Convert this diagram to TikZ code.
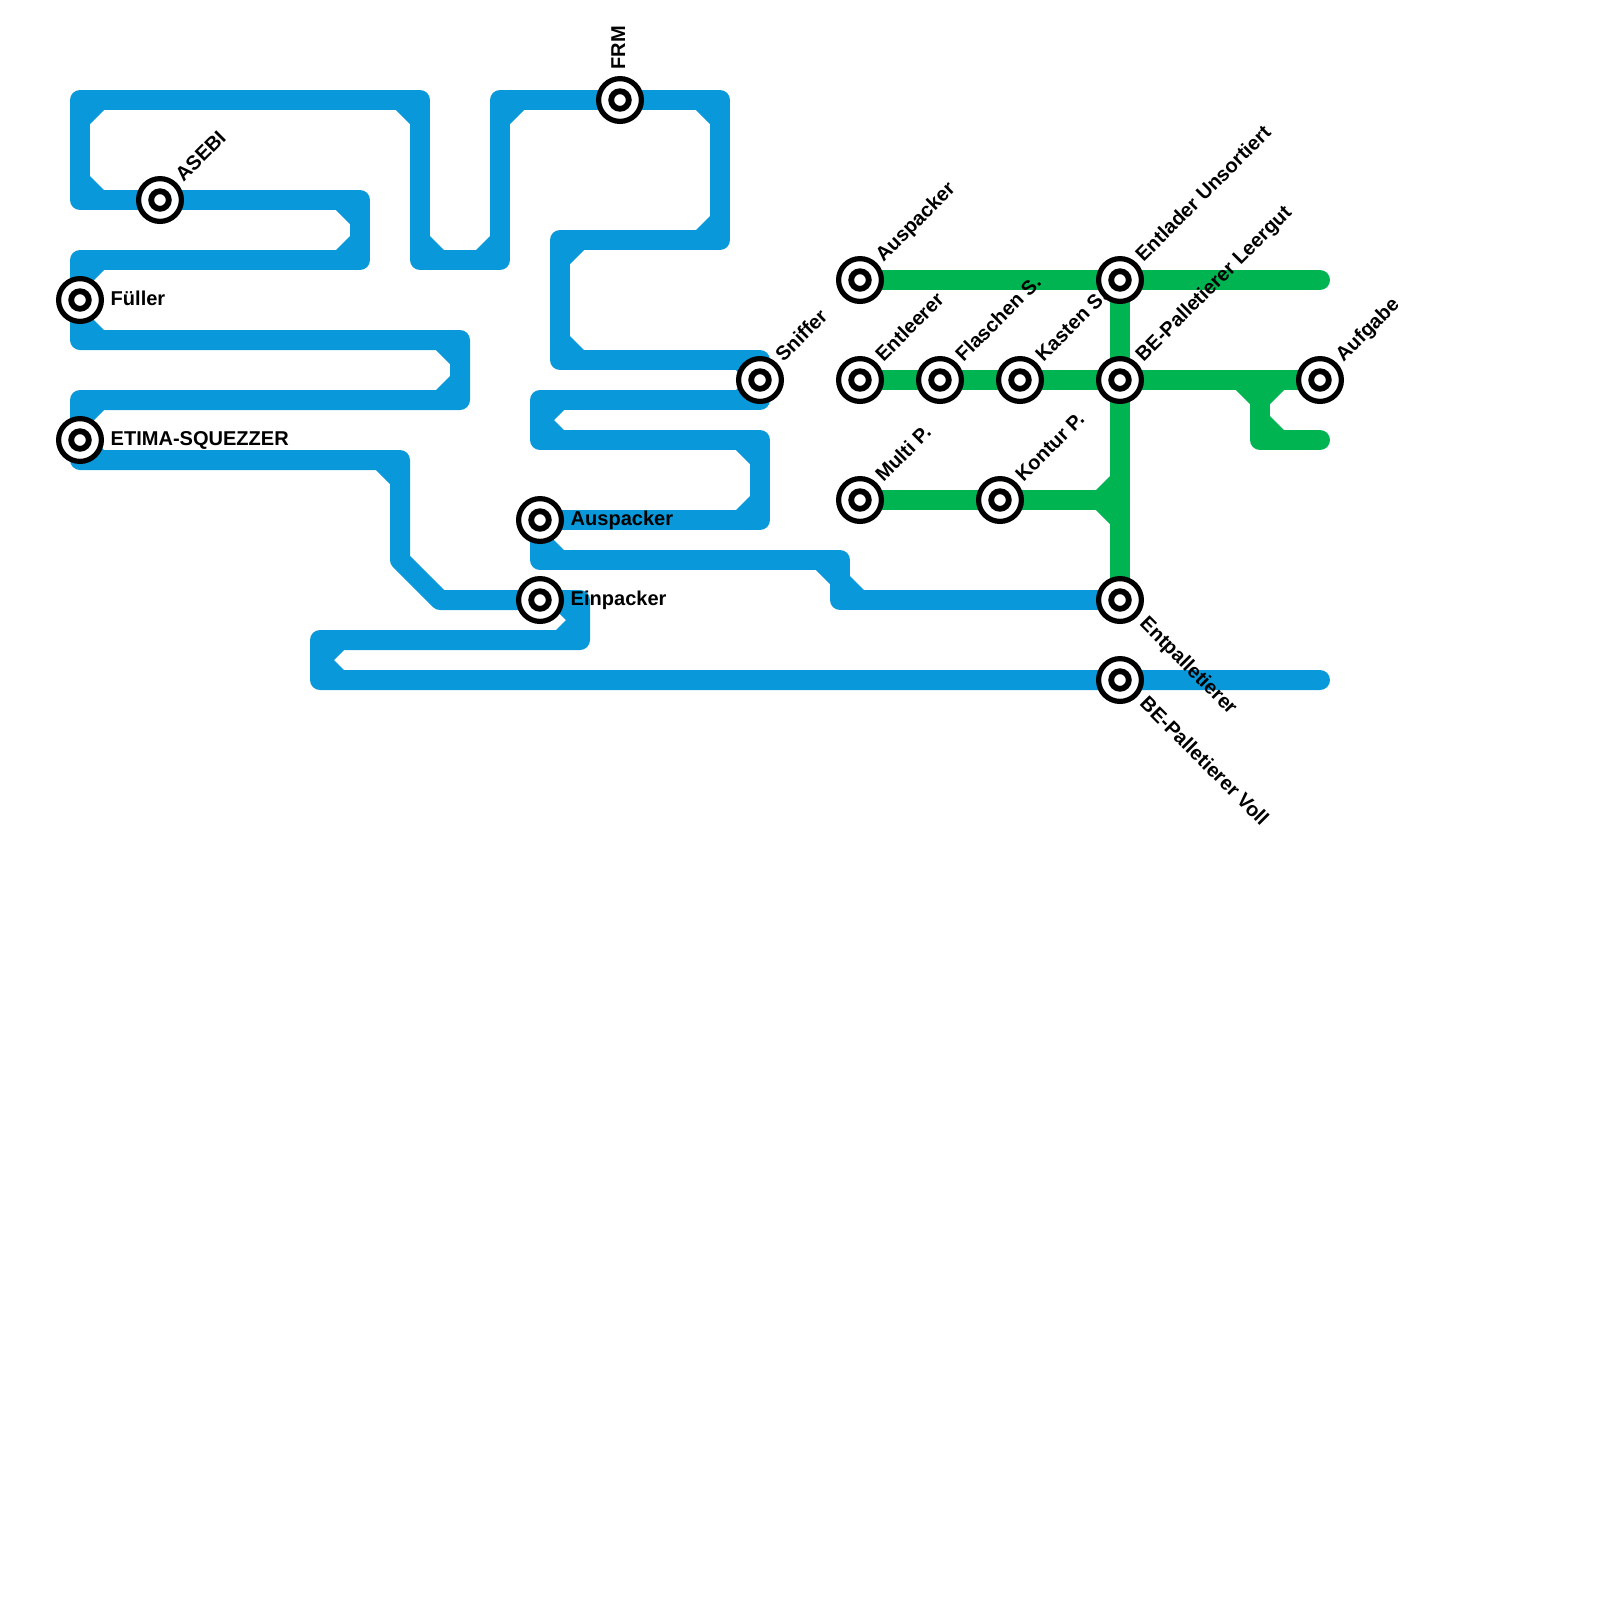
\documentclass[tikz,border=0pt]{standalone}
\usepackage{fontspec}
\setmainfont{Liberation Sans}
\usepackage{color}
\usetikzlibrary{positioning}
\definecolor{lineblue}{HTML}{0998D9}
\definecolor{linegreen}{HTML}{00B451}
\pgfdeclarelayer{lines}
\pgfdeclarelayer{names}
\pgfsetlayers{lines,names,main}

\begin{document}
\begin{tikzpicture}[x=0.2cm, y=-0.2cm, every node/.style={font=\fontsize{5.7}{7}\selectfont\bfseries}]
    % styles
    \tikzstyle{station} = [circle, draw=black, line width=0.52mm, fill=white, minimum size=4.28mm, inner sep=0pt,
        path picture={\draw[black, line width=0.58mm] (path picture bounding box.center) circle (0.88mm);}]
    \tikzstyle{blueline} = [draw=lineblue, line width=2mm, line join=round, line cap=round]
    \tikzstyle{greenline} = [draw=linegreen, line width=2mm, line join=round, line cap=round]
    \tikzstyle{labelne} = [shift={(1.16,-0.85)}, rotate=45, anchor=base west, inner sep=0pt]
    \tikzstyle{labelse} = [shift={(0.92,1.22)}, rotate=-45, anchor=base west, inner sep=0pt]
    \tikzstyle{labelup} = [shift={(0.25,-1.5)}, rotate=90, anchor=base west, inner sep=0pt]
    \tikzstyle{labelrt} = [shift={(1.5,0.25)}, anchor=base west, inner sep=0pt]

    \useasboundingbox (0,0) rectangle (80,80);

    % stations
    \node (fueller) [station] at (4,15) {};
    \node (etima) [station] at (4,22) {};
    \node (asebi) [station] at (8,10) {};
    \node (frm) [station] at (31,5) {};
    \node (sniffer) [station] at (38,19) {};
    \node (auspackerb) [station] at (27,26) {};
    \node (einpacker) [station] at (27,30) {};
    \node (auspackerg) [station] at (43,14) {};
    \node (entleerer) [station] at (43,19) {};
    \node (multi) [station] at (43,25) {};
    \node (flaschen) [station] at (47,19) {};
    \node (kasten) [station] at (51,19) {};
    \node (kontur) [station] at (50,25) {};
    \node (entlader) [station] at (56,14) {};
    \node (leergut) [station] at (56,19) {};
    \node (entpal) [station] at (56,30) {};
    \node (voll) [station] at (56,34) {};
    \node (aufgabe) [station] at (66,19) {};

    % bends
    \foreach \name/\x/\y in {c1/4/13, c2/18/13, c3/18/10, c4/4/10, c5/4/5, c6/21/5, c7/21/13, c8/25/13,
        c9/25/5, c10/36/5, c11/36/12, c12/28/12, c13/28/18, c14/38/18, c15/38/20, c16/27/20, c17/27/22,
        c18/38/22, c19/38/26, c20/27/28, c21/42/28, c22/42/30,
        d1/4/17, d2/23/17, d3/23/20, d4/4/20, d5/4/23, d6/20/23, d7/20/28, d8/22/30, d9/29/30, d10/29/32,
        d11/16/32, d12/16/34, d13/66/34,
        g1/66/14, g2/63/19, g3/63/22, g4/66/22, g5/56/25}
        \coordinate (\name) at (\x,\y);

    % lines
    \begin{pgfonlayer}{lines}
    \draw [blueline] (fueller.center) -- (c1) -- (c2) -- (c3) -- (asebi.center) -- (c4) -- (c5) -- (c6) -- (c7) -- (c8)
        -- (c9) -- (frm.center) -- (c10) -- (c11) -- (c12) -- (c13) -- (c14) -- (sniffer.center) -- (c15) -- (c16)
        -- (c17) -- (c18) -- (c19) -- (auspackerb.center) -- (c20) -- (c21) -- (c22) -- (entpal.center);
    \draw [blueline] (fueller.center) -- (d1) -- (d2) -- (d3) -- (d4) -- (etima.center) -- (d5) -- (d6) -- (d7) -- (d8)
        -- (einpacker.center) -- (d9) -- (d10) -- (d11) -- (d12) -- (voll.center) -- (d13);
    \draw [greenline] (auspackerg.center) -- (entlader.center) -- (g1);
    \draw [greenline] (entleerer.center) -- (flaschen.center) -- (kasten.center) -- (leergut.center) -- (g2) -- (aufgabe.center);
    \draw [greenline] (multi.center) -- (kontur.center) -- (g5);
    \draw [greenline] (entlader.center) -- (leergut.center) -- (g5) -- (entpal.center);
    \draw [greenline] (g2) -- (g3) -- (g4);

    % inner corners
    \foreach \corner/\sx/\sy in {c1/1/1, c2/-1/-1, c3/-1/1, c4/1/-1, c5/1/1, c6/-1/1, c7/1/-1, c8/-1/-1, c9/1/1,
        c10/-1/1, c11/-1/-1, c12/1/1, c13/1/-1, c14/-1/1, c15/-1/-1, c16/1/1, c17/1/-1, c18/-1/1, c19/-1/-1,
        c20/1/-1, c21/-1/1, c22/1/-1, d1/1/-1, d2/-1/1, d3/-1/-1, d4/1/1, d5/1/-1, d6/-1/1, d9/-1/1, d10/-1/-1,
        d11/1/1, d12/1/-1}
        \fill [lineblue] (\corner) -- ([shift={(\sx*1.2,0)}]\corner) -- ([shift={(\sx*1.2,\sy*0.5)}]\corner)
            -- ([shift={(\sx*0.5,\sy*1.2)}]\corner) -- ([shift={(0,\sy*1.2)}]\corner) -- cycle;
    \foreach \corner/\sx/\sy in {g2/-1/1, g2/1/1, g3/1/-1, g5/-1/-1, g5/-1/1}
        \fill [linegreen] (\corner) -- ([shift={(\sx*1.2,0)}]\corner) -- ([shift={(\sx*1.2,\sy*0.5)}]\corner)
            -- ([shift={(\sx*0.5,\sy*1.2)}]\corner) -- ([shift={(0,\sy*1.2)}]\corner) -- cycle;
    \end{pgfonlayer}

    % station names
    \begin{pgfonlayer}{names}
    \node (tfueller) [labelrt] at (fueller.center) {Füller};
    \node (tetima) [labelrt] at (etima.center) {ETIMA-SQUEZZER};
    \node (tasebi) [labelne] at (asebi.center) {ASEBI};
    \node (tfrm) [labelup] at (frm.center) {FRM};
    \node (tsniffer) [labelne] at (sniffer.center) {Sniffer};
    \node (tauspackerb) [labelrt] at (auspackerb.center) {Auspacker};
    \node (teinpacker) [labelrt] at (einpacker.center) {Einpacker};
    \node (tauspackerg) [labelne] at (auspackerg.center) {Auspacker};
    \node (tentleerer) [labelne] at (entleerer.center) {Entleerer};
    \node (tmulti) [labelne] at (multi.center) {Multi P.};
    \node (tflaschen) [labelne] at (flaschen.center) {Flaschen S.};
    \node (tkasten) [labelne] at (kasten.center) {Kasten S.};
    \node (tkontur) [labelne] at (kontur.center) {Kontur P.};
    \node (tentlader) [labelne] at (entlader.center) {Entlader Unsortiert};
    \node (tleergut) [labelne] at (leergut.center) {BE-Palletierer Leergut};
    \node (tentpal) [labelse] at (entpal.center) {Entpalletierer};
    \node (tvoll) [labelse] at (voll.center) {BE-Palletierer Voll};
    \node (taufgabe) [labelne] at (aufgabe.center) {Aufgabe};
    \end{pgfonlayer}
\end{tikzpicture}
\end{document}
